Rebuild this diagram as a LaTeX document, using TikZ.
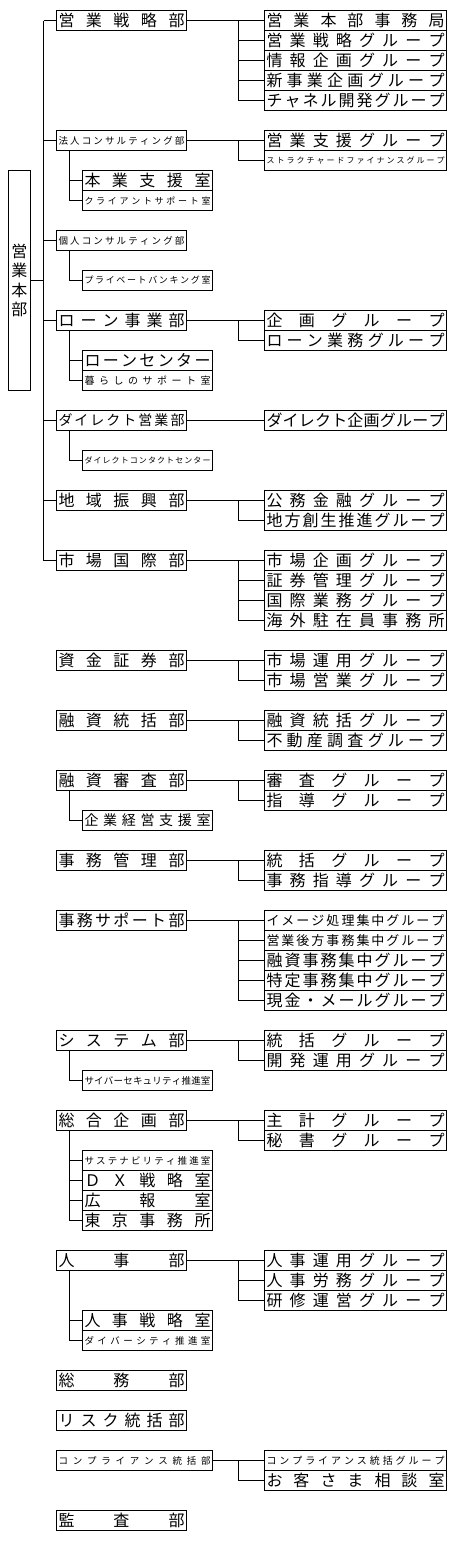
\documentclass[tikz,border=0pt]{standalone}
\usepackage{fontspec}
\newfontfamily\jp{Noto Sans CJK JP}
\makeatletter
\def\spr#1{\spr@a#1\relax}
\def\spr@a#1{#1\spr@b}
\def\spr@b#1{\ifx\relax#1\else\hfil#1\expandafter\spr@b\fi}
\makeatother
\tikzset{
  obox/.style={draw, line width=1pt, rectangle, inner sep=0pt, outer sep=0pt,
    minimum height=20pt, anchor=north west},
  ln/.style={line width=1pt}
}
\newcommand\orgbox[6]{\node[obox, minimum width=#4pt, font=\jp\fontsize{#5}{#5}\selectfont] (#1) at (#2,{10.5+20*#3}) {\makebox[\dimexpr#4pt-4pt\relax][s]{\spr{#6}}};}
\begin{document}
\begin{tikzpicture}[x=1pt,y=-1pt]
\fill[white] (0,0) rectangle (460,1550);
\useasboundingbox (0,0) rectangle (460,1550);
\coordinate (tr) at (43.5,0);
\coordinate (sb) at (69.5,0);
\coordinate (br) at (238.5,0);
% head box
\node[draw, line width=1pt, inner sep=0pt, outer sep=0pt, minimum width=22pt, minimum height=220pt, anchor=north west,
  align=center, font=\jp\fontsize{16}{19.5}\selectfont] (honbu) at (8.5,170.5) {営\\業\\本\\部};
% departments
\orgbox{d1}{56.5}{0}{130}{16}{営業戦略部}
\orgbox{d2}{56.5}{6}{130}{9.5}{法人コンサルティング部}
\orgbox{d3}{56.5}{11}{130}{9.5}{個人コンサルティング部}
\orgbox{d4}{56.5}{15}{130}{16}{ローン事業部}
\orgbox{d5}{56.5}{20}{130}{14}{ダイレクト営業部}
\orgbox{d6}{56.5}{24}{130}{16}{地域振興部}
\orgbox{d7}{56.5}{27}{130}{16}{市場国際部}
\orgbox{d8}{56.5}{32}{130}{16}{資金証券部}
\orgbox{d9}{56.5}{35}{130}{16}{融資統括部}
\orgbox{d10}{56.5}{38}{130}{16}{融資審査部}
\orgbox{d11}{56.5}{42}{130}{16}{事務管理部}
\orgbox{d12}{56.5}{45}{130}{16}{事務サポート部}
\orgbox{d13}{56.5}{51}{130}{16}{システム部}
\orgbox{d14}{56.5}{55}{130}{16}{総合企画部}
\orgbox{d15}{56.5}{62}{130}{16}{人事部}
\orgbox{d16}{56.5}{68}{130}{16}{総務部}
\orgbox{d17}{56.5}{70}{130}{16}{リスク統括部}
\orgbox{d18}{56.5}{72}{156}{9.5}{コンプライアンス統括部}
\orgbox{d19}{56.5}{75}{130}{16}{監査部}
% groups
\orgbox{g1a}{264.5}{0}{182}{16}{営業本部事務局}
\orgbox{g1b}{264.5}{1}{182}{16}{営業戦略グループ}
\orgbox{g1c}{264.5}{2}{182}{16}{情報企画グループ}
\orgbox{g1d}{264.5}{3}{182}{16}{新事業企画グループ}
\orgbox{g1e}{264.5}{4}{182}{16}{チャネル開発グループ}
\orgbox{g2a}{264.5}{6}{182}{16}{営業支援グループ}
\orgbox{g2b}{264.5}{7}{182}{8}{ストラクチャードファイナンスグループ}
\orgbox{g4a}{264.5}{15}{182}{16}{企画グループ}
\orgbox{g4b}{264.5}{16}{182}{16}{ローン業務グループ}
\orgbox{g5a}{264.5}{20}{182}{16}{ダイレクト企画グループ}
\orgbox{g6a}{264.5}{24}{182}{16}{公務金融グループ}
\orgbox{g6b}{264.5}{25}{182}{16}{地方創生推進グループ}
\orgbox{g7a}{264.5}{27}{182}{16}{市場企画グループ}
\orgbox{g7b}{264.5}{28}{182}{16}{証券管理グループ}
\orgbox{g7c}{264.5}{29}{182}{16}{国際業務グループ}
\orgbox{g7d}{264.5}{30}{182}{16}{海外駐在員事務所}
\orgbox{g8a}{264.5}{32}{182}{16}{市場運用グループ}
\orgbox{g8b}{264.5}{33}{182}{16}{市場営業グループ}
\orgbox{g9a}{264.5}{35}{182}{16}{融資統括グループ}
\orgbox{g9b}{264.5}{36}{182}{16}{不動産調査グループ}
\orgbox{g10a}{264.5}{38}{182}{16}{審査グループ}
\orgbox{g10b}{264.5}{39}{182}{16}{指導グループ}
\orgbox{g11a}{264.5}{42}{182}{16}{統括グループ}
\orgbox{g11b}{264.5}{43}{182}{16}{事務指導グループ}
\orgbox{g12a}{264.5}{45}{182}{13}{イメージ処理集中グループ}
\orgbox{g12b}{264.5}{46}{182}{13}{営業後方事務集中グループ}
\orgbox{g12c}{264.5}{47}{182}{16}{融資事務集中グループ}
\orgbox{g12d}{264.5}{48}{182}{16}{特定事務集中グループ}
\orgbox{g12e}{264.5}{49}{182}{16}{現金・メールグループ}
\orgbox{g13a}{264.5}{51}{182}{16}{統括グループ}
\orgbox{g13b}{264.5}{52}{182}{16}{開発運用グループ}
\orgbox{g14a}{264.5}{55}{182}{16}{主計グループ}
\orgbox{g14b}{264.5}{56}{182}{16}{秘書グループ}
\orgbox{g15a}{264.5}{62}{182}{16}{人事運用グループ}
\orgbox{g15b}{264.5}{63}{182}{16}{人事労務グループ}
\orgbox{g15c}{264.5}{64}{182}{16}{研修運営グループ}
\orgbox{g18a}{264.5}{72}{182}{10}{コンプライアンス統括グループ}
\orgbox{g18b}{264.5}{73}{182}{16}{お客さま相談室}
% sub offices
\orgbox{s2a}{82.5}{8}{130}{16}{本業支援室}
\orgbox{s2b}{82.5}{9}{130}{9}{クライアントサポート室}
\orgbox{s3a}{82.5}{13}{130}{9}{プライベートバンキング室}
\orgbox{s4a}{82.5}{17}{130}{16}{ローンセンター}
\orgbox{s4b}{82.5}{18}{130}{10}{暮らしのサポート室}
\orgbox{s5a}{82.5}{22}{130}{8}{ダイレクトコンタクトセンター}
\orgbox{s10a}{82.5}{40}{130}{14}{企業経営支援室}
\orgbox{s13a}{82.5}{53}{130}{9.5}{サイバーセキュリティ推進室}
\orgbox{s14a}{82.5}{57}{130}{9.5}{サステナビリティ推進室}
\orgbox{s14b}{82.5}{58}{130}{16}{ＤＸ戦略室}
\orgbox{s14c}{82.5}{59}{130}{16}{広報室}
\orgbox{s14d}{82.5}{60}{130}{16}{東京事務所}
\orgbox{s15a}{82.5}{65}{130}{16}{人事戦略室}
\orgbox{s15b}{82.5}{66}{130}{9.5}{ダイバーシティ推進室}
% trunk
\draw[ln] (honbu.east) -- (honbu.east -| tr);
\draw[ln] (d1.west -| tr) -- (d7.west -| tr);
\foreach \d in {d1,d2,d3,d4,d5,d6,d7} \draw[ln] (\d.west) -- (\d.west -| tr);
% department to groups
\foreach \d/\a/\z in {d1/g1a/g1e, d2/g2a/g2b, d4/g4a/g4b, d6/g6a/g6b, d7/g7a/g7d, d8/g8a/g8b,
  d9/g9a/g9b, d10/g10a/g10b, d11/g11a/g11b, d12/g12a/g12e, d13/g13a/g13b, d14/g14a/g14b,
  d15/g15a/g15c, d18/g18a/g18b} {
  \draw[ln] (\d.east) -- (\a.west);
  \draw[ln] (\a.west -| br) |- (\z.west);
}
\draw[ln] (d5.east) -- (g5a.west);
\foreach \g in {g1b,g1c,g1d,g7b,g7c,g12b,g12c,g12d,g15b} \draw[ln] (\g.west -| br) -- (\g.west);
% department to sub offices
\foreach \d/\z in {d2/s2b, d3/s3a, d4/s4b, d5/s5a, d10/s10a, d13/s13a, d14/s14d, d15/s15b}
  \draw[ln] (\d.south -| sb) |- (\z.west);
\foreach \s in {s2a,s4a,s14a,s14b,s14c,s15a} \draw[ln] (\s.west -| sb) -- (\s.west);
\end{tikzpicture}
\end{document}
